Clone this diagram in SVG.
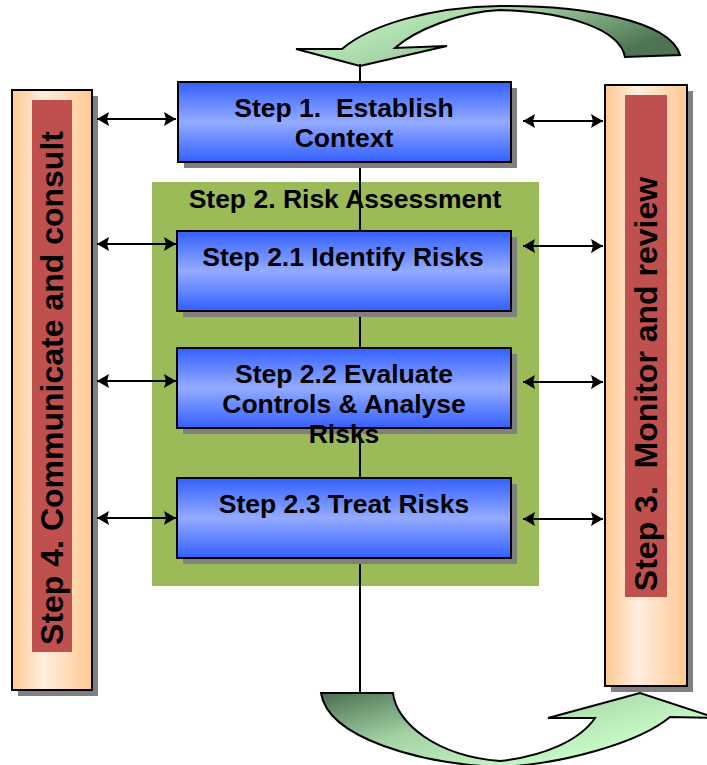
<svg xmlns="http://www.w3.org/2000/svg" width="707" height="765" viewBox="0 0 707 765">
<defs>
<linearGradient id="blue" x1="0" y1="0" x2="0" y2="1">
<stop offset="0" stop-color="#3360ff"/><stop offset="0.5" stop-color="#94abff"/><stop offset="1" stop-color="#3360ff"/>
</linearGradient>
<linearGradient id="peach" x1="0" y1="0" x2="1" y2="0">
<stop offset="0" stop-color="#ffc890"/><stop offset="0.4" stop-color="#ffeedf"/><stop offset="1" stop-color="#ffc890"/>
</linearGradient>
<linearGradient id="topArrow" x1="0" y1="0" x2="1" y2="0.4">
<stop offset="0" stop-color="#ccffcc"/><stop offset="0.5" stop-color="#a6d4a6"/><stop offset="1" stop-color="#4e7553"/>
</linearGradient>
<linearGradient id="botArrow" x1="0" y1="0" x2="0.9" y2="0.6">
<stop offset="0" stop-color="#4a6e50"/><stop offset="0.45" stop-color="#a4d2a4"/><stop offset="1" stop-color="#ccffcc"/>
</linearGradient>
<marker id="ah" viewBox="0 0 12 14" refX="12" refY="7" markerWidth="12" markerHeight="14" markerUnits="userSpaceOnUse" orient="auto-start-reverse">
<path d="M0,0 L12,7 L0,14 L2,7 Z" fill="#000"/>
</marker>
<style>
.shadow{fill:#808080}
.box{fill:url(#blue);stroke:#000;stroke-width:2}
.bar{fill:url(#peach);stroke:#000;stroke-width:2}
.strip{fill:#c0504d}
.t{font-family:"Liberation Sans",Arial,sans-serif;font-weight:bold;font-size:26.5px;fill:#000;text-anchor:middle}
.v{font-family:"Liberation Sans",Arial,sans-serif;font-weight:bold;font-size:32px;fill:#000;text-anchor:middle}
.conn{stroke:#000;stroke-width:2;fill:none}
.arrow{stroke:#000;stroke-width:2}
</style>
</defs>

<g id="top-cycle-arrow">
<path d="M342,49 C370,25 430,7 500,6 C580,5 670,20 680,55 L625,57 C620,30 570,12 500,10 C460,12 415,30 395,48 L447,46 L360,66 L296,49 Z" fill="url(#topArrow)" stroke="#000" stroke-width="2"/>
</g>
<g id="bottom-cycle-arrow">
<path d="M321,693 L393,693 C396,722 435,756 500,761 C545,756 580,740 595,718 L548,718 L640,693 L716,718 L670,717 C640,742 565,764 500,767 C420,764 328,738 321,693 Z" fill="url(#botArrow)" stroke="#000" stroke-width="2"/>
</g>

<g id="step4-communicate">
<rect class="shadow" x="18" y="96" width="80" height="600"/>
<rect class="bar" x="12" y="90" width="80" height="600"/>
<rect class="strip" x="32" y="100" width="40" height="552"/>
<text class="v" transform="translate(63,388) rotate(-90)">Step 4. Communicate and consult</text>
</g>

<g id="step3-monitor">
<rect class="shadow" x="611" y="91" width="82" height="601"/>
<rect class="bar" x="605" y="85" width="82" height="601"/>
<rect class="strip" x="625" y="95" width="42" height="502"/>
<text class="v" transform="translate(657,384) rotate(-90)" xml:space="preserve">Step 3.  Monitor and review</text>
</g>

<g id="step2-risk-assessment">
<rect x="152" y="182" width="387" height="404" fill="#9bbb59"/>
</g>

<g id="connectors">
<line class="conn" x1="360" y1="64" x2="360" y2="693"/>
<line class="arrow" x1="97" y1="119" x2="176" y2="119" marker-start="url(#ah)" marker-end="url(#ah)"/>
<line class="arrow" x1="97" y1="244" x2="176" y2="244" marker-start="url(#ah)" marker-end="url(#ah)"/>
<line class="arrow" x1="97" y1="381" x2="176" y2="381" marker-start="url(#ah)" marker-end="url(#ah)"/>
<line class="arrow" x1="97" y1="518" x2="176" y2="518" marker-start="url(#ah)" marker-end="url(#ah)"/>
<line class="arrow" x1="523" y1="121" x2="603" y2="121" marker-start="url(#ah)" marker-end="url(#ah)"/>
<line class="arrow" x1="523" y1="246" x2="603" y2="246" marker-start="url(#ah)" marker-end="url(#ah)"/>
<line class="arrow" x1="523" y1="382" x2="603" y2="382" marker-start="url(#ah)" marker-end="url(#ah)"/>
<line class="arrow" x1="523" y1="519" x2="603" y2="519" marker-start="url(#ah)" marker-end="url(#ah)"/>
</g>

<g id="step2-title">
<text class="t" x="345" y="208">Step 2. Risk Assessment</text>
</g>

<g id="step1">
<rect class="shadow" x="184" y="88" width="333" height="80"/>
<rect class="box" x="178" y="82" width="333" height="80"/>
<text class="t" x="344" y="117" xml:space="preserve">Step 1.  Establish</text>
<text class="t" x="344" y="147">Context</text>
</g>

<g id="step2-1">
<rect class="shadow" x="183" y="237" width="334" height="80"/>
<rect class="box" x="177" y="231" width="334" height="80"/>
<text class="t" x="343" y="266">Step 2.1 Identify Risks</text>
</g>

<g id="step2-2">
<rect class="shadow" x="183" y="354" width="334" height="80"/>
<rect class="box" x="177" y="348" width="334" height="80"/>
<text class="t" x="344" y="383">Step 2.2 Evaluate</text>
<text class="t" x="344" y="413">Controls &amp; Analyse</text>
<text class="t" x="344" y="443">Risks</text>
</g>

<g id="step2-3">
<rect class="shadow" x="183" y="484" width="334" height="80"/>
<rect class="box" x="177" y="478" width="334" height="80"/>
<text class="t" x="344" y="513">Step 2.3 Treat Risks</text>
</g>
</svg>
